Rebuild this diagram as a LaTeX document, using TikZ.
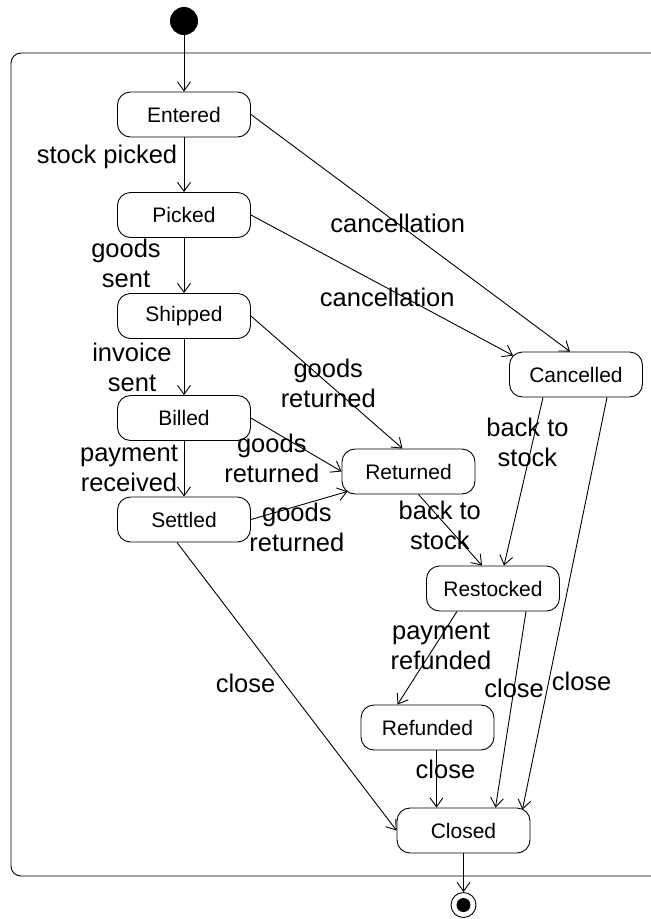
\documentclass[tikz,border=0pt]{standalone}
\usepackage{fontspec}
\setmainfont{Liberation Sans}
\usepackage{tikz}
\usetikzlibrary{arrows.meta}

\begin{document}
\begin{tikzpicture}[->,>={Straight Barb[length=9pt,width=13pt]},x=1pt,y=-1pt,
                    line width=0.9pt,
                    state node/.style={rectangle,rounded corners=13pt,draw,minimum width=133pt,
                                       minimum height=45pt,inner sep=0pt,font=\fontsize{21}{25}\selectfont},
                    start dot/.style={circle,fill,minimum size=28pt,inner sep=0pt},
                    end dot/.style={circle,draw,minimum size=25pt,inner sep=0pt,
                                    path picture={\fill (path picture bounding box.center) circle (7pt);}}]
\useasboundingbox (0,0) rectangle (651,919);
\clip (0,0) rectangle (651,919);
\draw[-,rounded corners=10pt] (11,53) rectangle (690,876);

\node[start dot] (init) at (184,21) {};
\node[state node] (entered) at (184,114.5) {Entered};
\node[state node] (picked) at (184,215) {Picked};
\node[state node] (shipped) at (184,316) {Shipped};
\node[state node] (billed) at (184,418) {Billed};
\node[state node] (settled) at (184,519.5) {Settled};
\node[state node] (returned) at (408.5,471.5) {Returned};
\node[state node] (cancelled) at (576,374.5) {Cancelled};
\node[state node] (restocked) at (493,588.5) {Restocked};
\node[state node] (refunded) at (427.5,727.5) {Refunded};
\node[state node] (closed) at (463.5,830.5) {Closed};
\node[end dot] (final) at (463.5,905) {};

\path[every node/.style={font=\fontsize{25.5}{30}\selectfont,align=center}]

(init) edge (entered)
(entered) edge node[pos=0.36,xshift=-77pt] {stock picked} (picked)
(entered.east) edge node[pos=0.46] {cancellation} ([xshift=-6pt]cancelled.north)
(picked) edge node[pos=0.46,xshift=-58pt] {goods\\sent} (shipped)
(picked.east) edge node[pos=0.52,yshift=-9pt] {cancellation} ([shift={(4,4)}]cancelled.north west)
(shipped) edge node[pos=0.5,xshift=-52pt] {invoice\\sent} (billed)
(shipped.east) edge node[pos=0.51] {goods\\returned} ([xshift=-6pt]returned.north)
(billed) edge node[pos=0.49,xshift=-55pt] {payment\\received} (settled)
(billed.east) edge node[pos=0.23,yshift=-28pt] {goods\\returned} (returned.west)
(settled.east) edge node[pos=0.475,yshift=-21pt] {goods\\returned} ([shift={(6,-3)}]returned.south west)
([xshift=-7pt]settled.south) edge node[pos=0.49,xshift=-39pt] {close} (closed.west)
([xshift=10pt]returned.south) edge node[pos=0.43,xshift=-6pt] {back to\\stock} ([xshift=-11pt]restocked.north)
([xshift=-33pt]cancelled.south) edge node[pos=0.27,xshift=-5pt] {back to\\stock} ([xshift=11pt]restocked.north)
([xshift=31pt]cancelled.south) edge node[pos=0.69,xshift=33pt] {close} ([shift={(-8,2)}]closed.north east)
([xshift=-36pt]restocked.south) edge node[pos=0.37,xshift=6pt] {payment\\refunded} ([xshift=-30pt]refunded.north)
([xshift=33pt]restocked.south) edge node[pos=0.39] {close} ([xshift=32pt]closed.north)
([xshift=9pt]refunded.south) edge node[pos=0.34,xshift=9pt] {close} ([xshift=-27pt]closed.north)
(closed) edge (final)
;

\end{tikzpicture}
\end{document}
